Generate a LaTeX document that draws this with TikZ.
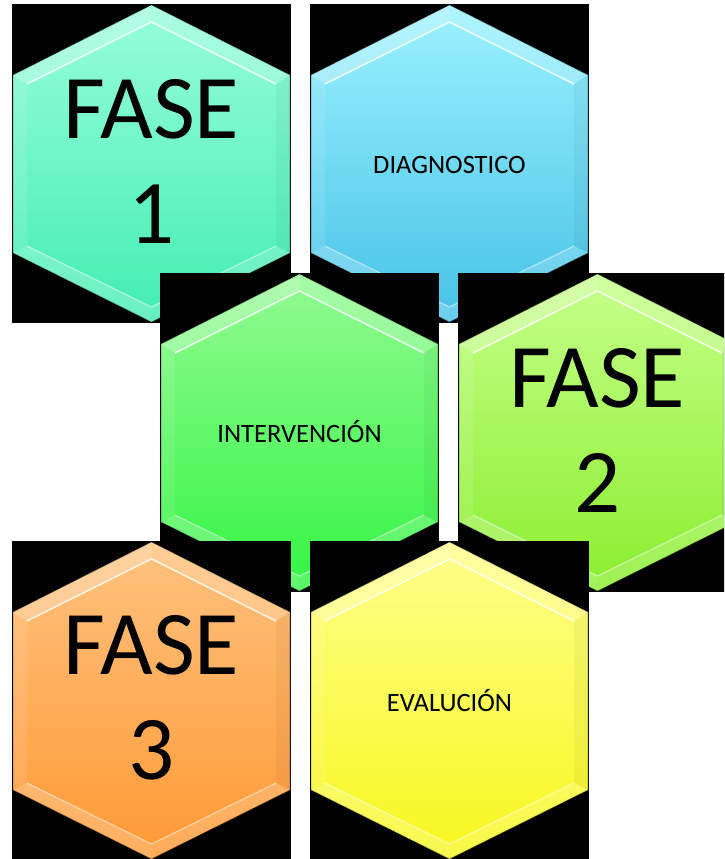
\documentclass[tikz,border=0pt]{standalone}
\usepackage{fontspec}
\setmainfont{Carlito}
\definecolor{aT}{HTML}{98FDDC}\definecolor{aB}{HTML}{42EDB2}
\definecolor{bT}{HTML}{9CF2FF}\definecolor{bB}{HTML}{46C2E6}
\definecolor{cT}{HTML}{92FA92}\definecolor{cB}{HTML}{33F543}
\definecolor{dT}{HTML}{C6FF8A}\definecolor{dB}{HTML}{8AEE2E}
\definecolor{eT}{HTML}{FFC27E}\definecolor{eB}{HTML}{FF9935}
\definecolor{fT}{HTML}{FFFF8C}\definecolor{fB}{HTML}{F7F71E}
\tikzset{
  cellback/.style={fill=black},
  bigtxt/.style={font=\fontsize{91}{105}\selectfont, align=center, text=black, inner sep=0pt},
  smalltxt/.style={font=\fontsize{26.5}{30}\selectfont, text=black, inner sep=0pt, anchor=base},
  facetlight/.style={fill=white, fill opacity=#1},
  facetdark/.style={fill=black, fill opacity=#1},
}
\newcommand\hexcell[5]{% name, x, y, top colour, bottom colour
  \begin{scope}[shift={(#2,#3)}]
    \fill[cellback] (0,0) rectangle (279,319);
    \coordinate (#1O1) at (139.5,1);  \coordinate (#1O2) at (278,71);
    \coordinate (#1O3) at (278,249);  \coordinate (#1O4) at (139.5,318);
    \coordinate (#1O5) at (1,249);    \coordinate (#1O6) at (1,71);
    \coordinate (#1I1) at (139.5,18); \coordinate (#1I2) at (264,80);
    \coordinate (#1I3) at (264,242);  \coordinate (#1I4) at (139.5,303);
    \coordinate (#1I5) at (15,242);   \coordinate (#1I6) at (15,80);
    \shade[top color=#4, bottom color=#5]
      (#1O1) -- (#1O2) -- (#1O3) -- (#1O4) -- (#1O5) -- (#1O6) -- cycle;
    \fill[facetlight=0.28] (#1O6) -- (#1O1) -- (#1I1) -- (#1I6) -- cycle;
    \fill[facetlight=0.20] (#1O1) -- (#1O2) -- (#1I2) -- (#1I1) -- cycle;
    \fill[facetdark=0.04]  (#1O2) -- (#1O3) -- (#1I3) -- (#1I2) -- cycle;
    \fill[facetlight=0.18] (#1O3) -- (#1O4) -- (#1I4) -- (#1I3) -- cycle;
    \fill[facetlight=0.22] (#1O4) -- (#1O5) -- (#1I5) -- (#1I4) -- cycle;
    \fill[facetlight=0.10] (#1O5) -- (#1O6) -- (#1I6) -- (#1I5) -- cycle;
    \draw[white, opacity=0.75, line width=1.6pt] (#1I6) -- (#1I1) -- (#1I2);
    \draw[white, opacity=0.45, line width=1.2pt] (#1I5) -- (#1I4) -- (#1I3);
    \draw[black, opacity=0.35, line width=0.8pt]
      (#1O1) -- (#1O2) -- (#1O3) -- (#1O4) -- (#1O5) -- (#1O6) -- cycle;
  \end{scope}
}
\begin{document}
\begin{tikzpicture}[x=1pt, y=-1pt]
  \useasboundingbox (0,0) rectangle (724,859);
  \fill[white] (0,0) rectangle (724,859);
  \begin{scope}
    \clip (0,0) rectangle (724,859);
    \hexcell{ha}{12}{4}{aT}{aB}
    \node[bigtxt] (fase1) at (151.5,161.5) {FASE\\1};
    \hexcell{hb}{310}{4}{bT}{bB}
    \node[smalltxt] (diag) at (449.5,173) {DIAGNOSTICO};
    \hexcell{hc}{160}{273}{cT}{cB}
    \node[smalltxt] (interv) at (299.5,442) {INTERVENCIÓN};
    \hexcell{hd}{458}{273}{dT}{dB}
    \node[bigtxt] (fase2) at (597.5,430) {FASE\\2};
    \hexcell{he}{12}{541}{eT}{eB}
    \node[bigtxt] (fase3) at (151.5,697.5) {FASE\\3};
    \hexcell{hf}{310}{541}{fT}{fB}
    \node[smalltxt] (eval) at (449.5,711) {EVALUCIÓN};
  \end{scope}
\end{tikzpicture}
\end{document}
